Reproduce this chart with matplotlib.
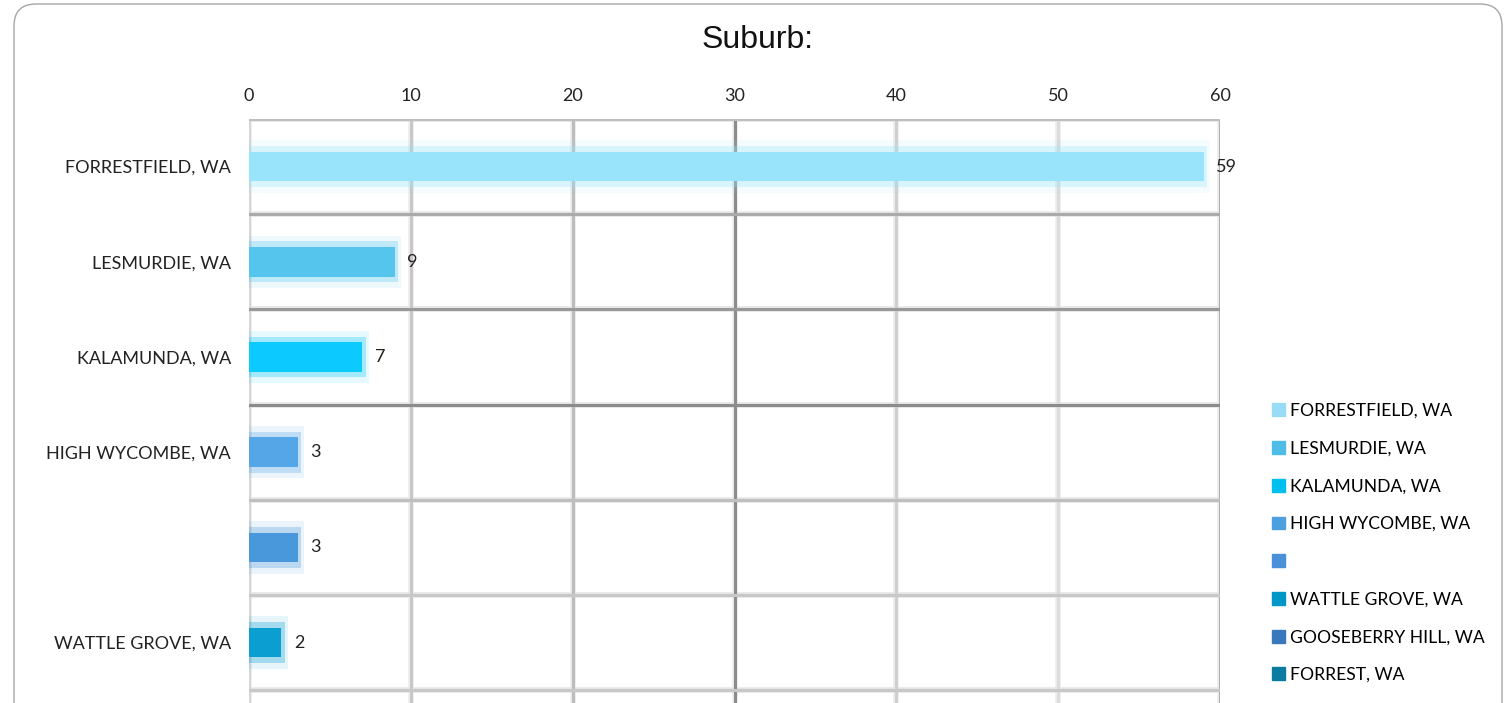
import matplotlib
matplotlib.use("Agg")
import matplotlib.pyplot as plt
from matplotlib.patches import FancyBboxPatch, Rectangle

plt.rcParams["font.family"] = ["Lato", "DejaVu Sans"]

# ── data ─────────────────────────────────────────────────────────────────────
suburbs = ["FORRESTFIELD, WA", "LESMURDIE, WA", "KALAMUNDA, WA", "HIGH WYCOMBE, WA",
           "", "WATTLE GROVE, WA", "GOOSEBERRY HILL, WA", "FORREST, WA"]
counts = [59, 9, 7, 3, 3, 2, 1, 1]
bar_colors = ["#99e4fb", "#55c5ee", "#0ccaff", "#55a6e6",
              "#4a98dc", "#0b9ed0", "#3a78c0", "#0a7fa6"]
legend_colors = ["#99dcf6", "#4dbde6", "#00c0f0", "#4da0e0",
                 "#4a90d8", "#0096c8", "#3a78bc", "#0a7ca0"]
xticks = [0, 10, 20, 30, 40, 50, 60]
vgrid_dark = ["#d6d6d6", "#c8c8c8", "#bdbdbd", "#8c8c8c", "#d0d0d0", "#dcdcdc", "#b0b0b0"]
hgrid_dark = ["#bfbfbf", "#aaaaaa", "#999999", "#8c8c8c", "#bfbfbf", "#c8c8c8", "#c8c8c8",
              "#c8c8c8", "#c8c8c8"]

W, H = 1508, 703
fig = plt.figure(figsize=(W / 100, H / 100), dpi=100)

# chart frame (rounded, runs off the bottom like the screenshot)
frame = FancyBboxPatch((0.14, -1.0), 14.88, 7.99,
                       boxstyle="round,pad=0,rounding_size=0.22",
                       transform=fig.dpi_scale_trans, facecolor="none",
                       edgecolor="#a6a6a6", lw=1.0, zorder=-1)
fig.patches.append(frame)

# axes extends beyond the bottom of the figure (chart is cropped)
top_px, band_px = 119, 95.2
ax_h = band_px * len(suburbs)
ax = fig.add_axes([249 / W, 1 - (top_px + ax_h) / H, 971 / W, ax_h / H])
ax.set_facecolor("none")
ax.set_xlim(0, 60)
ax.set_ylim(len(suburbs) - 0.5, -0.5)

# grid
for t, c in zip(xticks, vgrid_dark):
    ax.axvline(t, color="#ececec", lw=4.0, zorder=1)
    ax.axvline(t, color=c, lw=2.2, zorder=1.1)
for i, c in enumerate(hgrid_dark):
    y = i - 0.5
    ax.axhline(y, color="#e6e6e6", lw=4.0, zorder=1)
    ax.axhline(y, color=c, lw=2.2, zorder=1.1)

# bars with soft halo
ypos = list(range(len(suburbs)))
ax.barh(ypos, [v + 0.4 for v in counts], height=0.55, color=bar_colors, alpha=0.1, zorder=2)
ax.barh(ypos, [v + 0.2 for v in counts], height=0.43, color=bar_colors, alpha=0.3, zorder=2.1)
core = ax.barh(ypos, counts, height=0.31, color=bar_colors, zorder=2.2)
ax.bar_label(core, labels=[str(v) for v in counts], padding=9, fontsize=13, color="#222222")

ax.set_yticks(ypos)
ax.set_yticklabels(suburbs, fontsize=13, color="#222222")
ax.set_xticks(xticks)
ax.tick_params(axis="x", top=True, labeltop=True, bottom=False, labelbottom=False,
               length=0, labelsize=13, labelcolor="#222222", pad=11)
ax.tick_params(axis="y", length=0, pad=13)
for s in ax.spines.values():
    s.set_visible(False)

fig.text(758 / W, 1 - 40 / H, "Suburb:", ha="center", va="center", fontsize=23,
         family="Liberation Sans", color="#111111")

handles = [Rectangle((0, 0), 1, 1, color=c) for c in legend_colors]
fig.legend(handles, suburbs, loc="upper left", bbox_to_anchor=(1265 / W, 1 - 396 / H),
           frameon=False, fontsize=12.6, handlelength=0.75, handleheight=0.75,
           handletextpad=0.3, labelspacing=1.24, borderaxespad=0)

fig.savefig("out.png", dpi=100)
